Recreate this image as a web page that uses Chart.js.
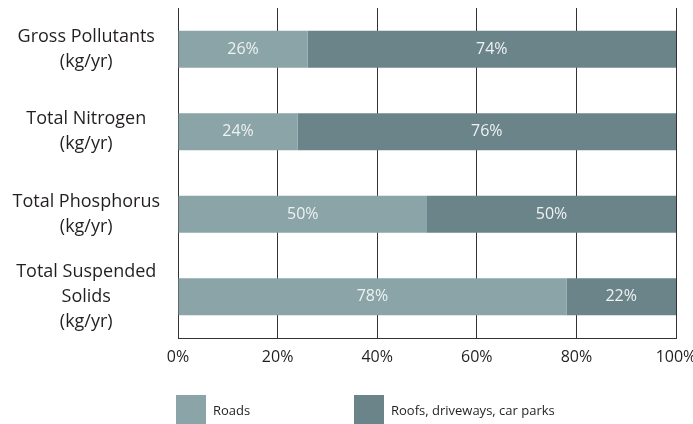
<!DOCTYPE html>
<html>
<head>
<meta charset="utf-8">
<script src="https://cdn.jsdelivr.net/npm/chart.js@4/dist/chart.umd.min.js"></script>
<style>
  html, body { margin: 0; padding: 0; background: #fff; }
  #wrap { width: 693px; height: 424px; }
</style>
</head>
<body>
<div id="wrap"><canvas id="loadChart" width="693" height="424"></canvas></div>
<script>
const categories = [
  ['Gross Pollutants', '(kg/yr)'],
  ['Total Nitrogen', '(kg/yr)'],
  ['Total Phosphorus', '(kg/yr)'],
  ['Total Suspended', 'Solids', '(kg/yr)']
];
const roads = [26, 24, 50, 78];
const roofs = [74, 76, 50, 22];
const seriesNames = ['Roads', 'Roofs, driveways, car parks'];
const seriesColors = ['#8aa4a8', '#6b8489'];

const FONT = "'Open Sans', sans-serif";

// percentage written in the middle of every bar segment
const barLabels = {
  id: 'barLabels',
  afterDatasetsDraw(chart) {
    const ctx = chart.ctx;
    ctx.save();
    ctx.font = '16px ' + FONT;
    ctx.fillStyle = '#eef2f2';
    ctx.textAlign = 'center';
    ctx.textBaseline = 'middle';
    chart.data.datasets.forEach((ds, i) => {
      chart.getDatasetMeta(i).data.forEach((bar, j) => {
        const p = bar.getCenterPoint();
        ctx.fillText(ds.data[j] + '%', p.x, p.y);
      });
    });
    ctx.restore();
  }
};

// legend squares under the axis
const boxLegend = {
  id: 'boxLegend',
  afterDraw(chart) {
    const ctx = chart.ctx;
    const xs = [176, 354];
    const top = 395;
    ctx.save();
    ctx.font = '13px ' + FONT;
    ctx.textBaseline = 'middle';
    chart.data.datasets.forEach((ds, i) => {
      ctx.fillStyle = ds.backgroundColor;
      ctx.fillRect(xs[i], top, 30, 29);
      ctx.fillStyle = '#231f20';
      ctx.fillText(ds.label, xs[i] + 37, top + 16);
    });
    ctx.restore();
  }
};

new Chart(document.getElementById('loadChart').getContext('2d'), {
  type: 'bar',
  data: {
    labels: categories,
    datasets: [
      { label: seriesNames[0], data: roads, backgroundColor: seriesColors[0] },
      { label: seriesNames[1], data: roofs, backgroundColor: seriesColors[1] }
    ]
  },
  options: {
    indexAxis: 'y',
    responsive: false,
    animation: false,
    events: [],
    categoryPercentage: 1,
    barPercentage: 0.45,
    layout: { padding: { top: 8, right: 17, bottom: 46, left: 0 } },
    plugins: { legend: { display: false }, tooltip: { enabled: false } },
    scales: {
      x: {
        stacked: true,
        min: 0,
        max: 100,
        ticks: {
          stepSize: 20,
          padding: 10,
          color: '#231f20',
          font: { family: FONT, size: 16 },
          callback: v => v + '%'
        },
        grid: { color: '#333', lineWidth: 1, drawTicks: false },
        border: { color: '#333', width: 1 },
        afterFit(scale) {
          scale.height = 40;
          scale.paddingLeft = 0;
          scale.paddingRight = 0;
        }
      },
      y: {
        stacked: true,
        ticks: {
          autoSkip: false,
          crossAlign: 'center',
          padding: 10,
          color: '#231f20',
          font: { family: FONT, size: 18, lineHeight: 1.39 }
        },
        grid: { display: false },
        border: { color: '#333', width: 1 },
        afterFit(scale) {
          scale.width = 178;
          scale.paddingTop = 0;
          scale.paddingBottom = 0;
        }
      }
    }
  },
  plugins: [barLabels, boxLegend]
});
</script>
</body>
</html>
